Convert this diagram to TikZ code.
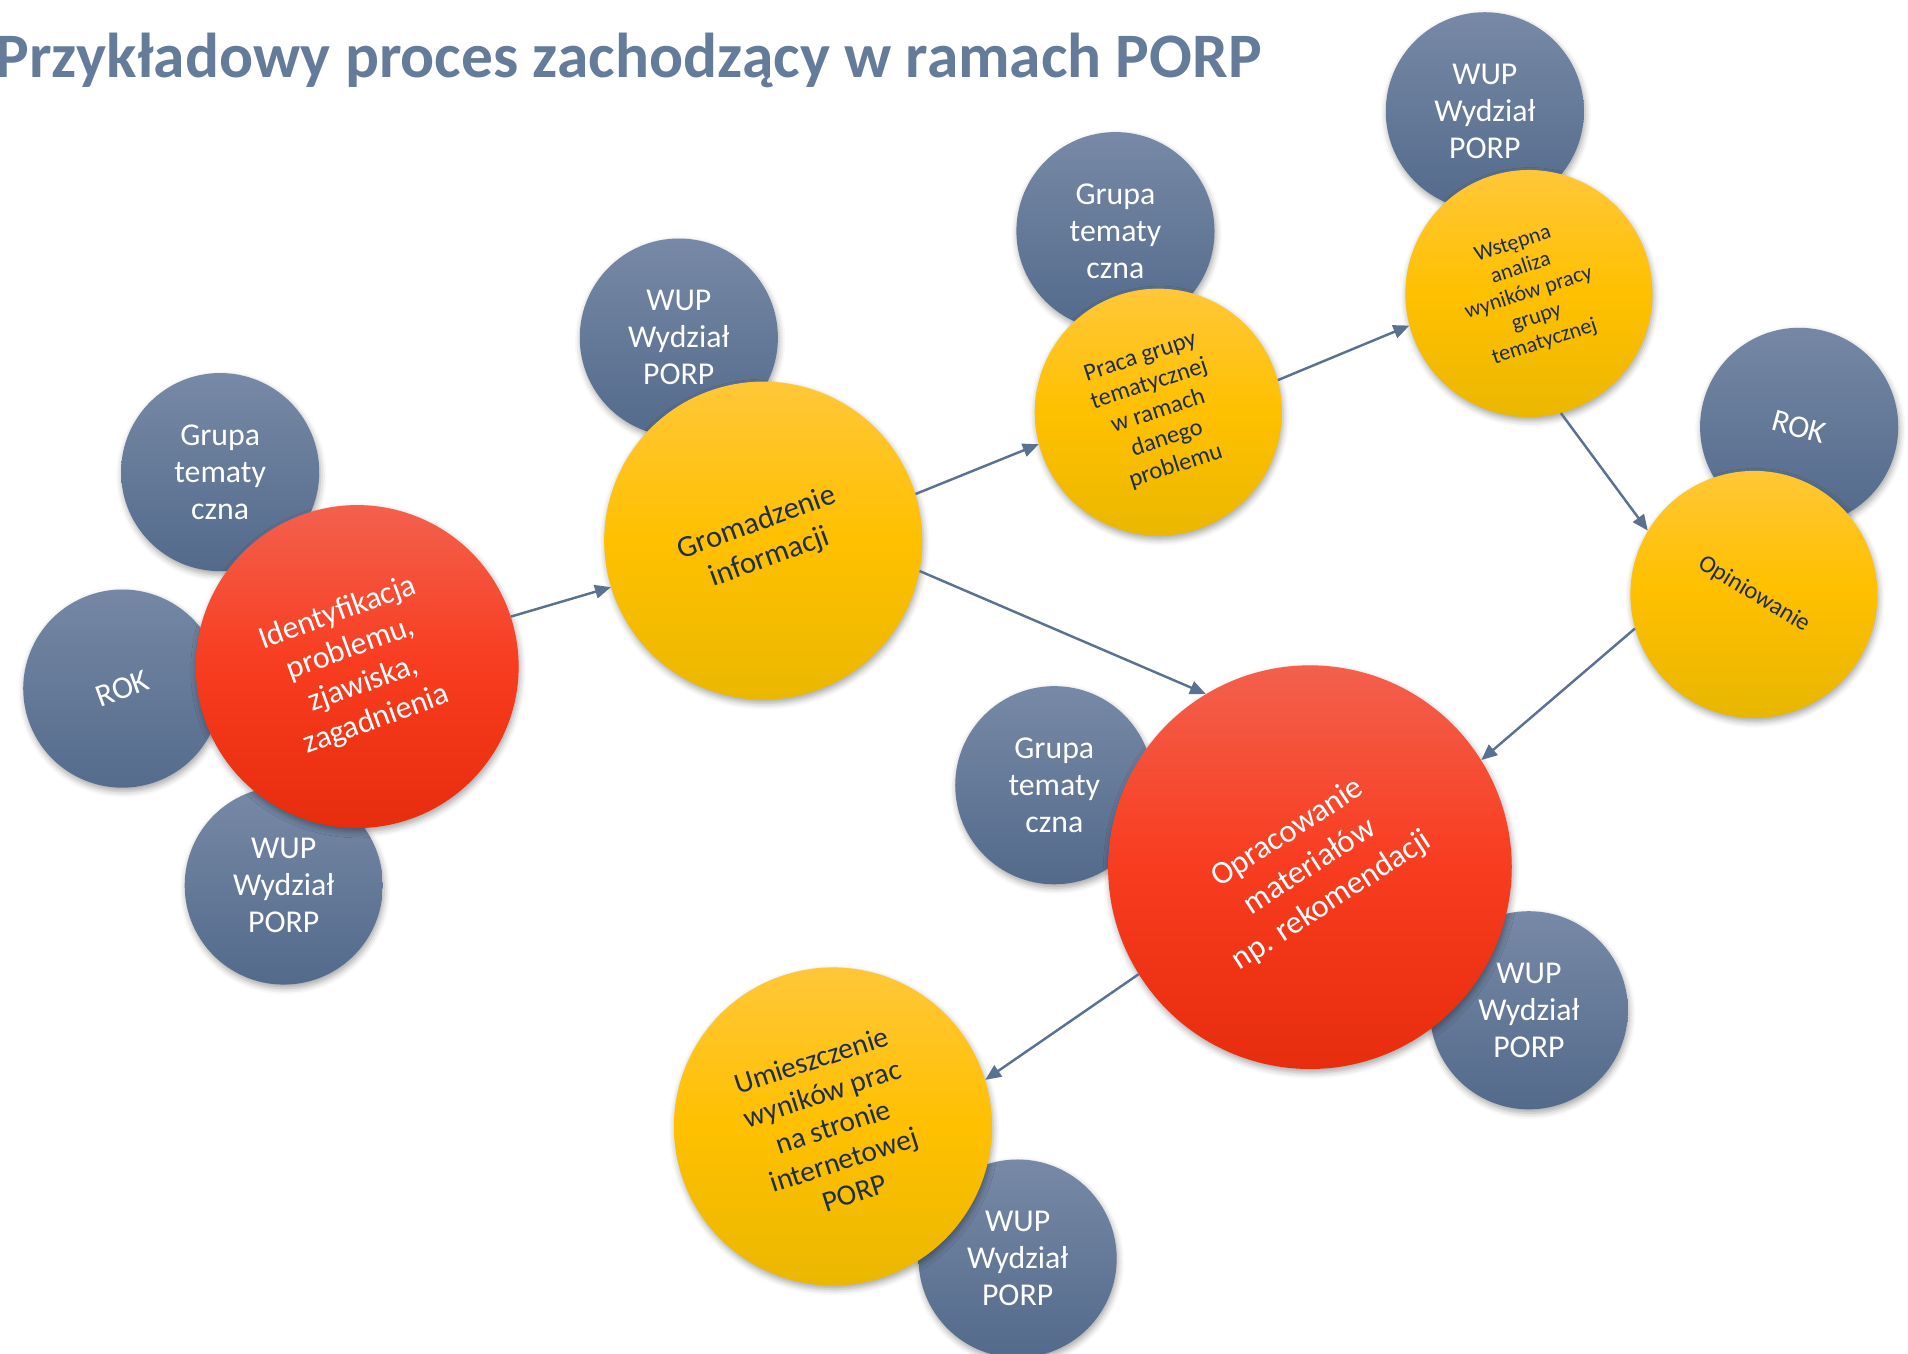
\documentclass[tikz,border=0pt]{standalone}
\usepackage{fontspec}
\setmainfont{Carlito}
\usetikzlibrary{arrows.meta,shadows.blur}
\definecolor{bluetop}{HTML}{7789A6}
\definecolor{bluebot}{HTML}{536A8B}
\definecolor{yeltop}{HTML}{FFC83F}
\definecolor{yelmid}{HTML}{FFC000}
\definecolor{yelbot}{HTML}{E8B700}
\definecolor{redtop}{HTML}{F26553}
\definecolor{redmid}{HTML}{F83C1F}
\definecolor{redbot}{HTML}{E42B0B}
\definecolor{navytext}{HTML}{1F2D4B}
\definecolor{titlecol}{HTML}{647B99}
\definecolor{arrowcol}{HTML}{5A7192}
\tikzset{
  bubble/.style={circle, inner sep=0pt, align=center,
    blur shadow={shadow xshift=1pt, shadow yshift=-3pt, shadow blur radius=5pt, shadow opacity=35}},
  bluebub/.style={bubble, minimum size=162pt, top color=bluetop, bottom color=bluebot,
    text=white, font=\fontsize{26}{30}\selectfont},
  yelbub/.style={bubble, top color=yeltop, bottom color=yelbot, middle color=yelmid, text=navytext},
  redbub/.style={bubble, top color=redtop, bottom color=redbot, middle color=redmid, text=white},
  conn/.style={draw=arrowcol, line width=2pt, -{Triangle[length=13pt,width=11pt]}}
}
\begin{document}
\begin{tikzpicture}[x=1pt,y=-1pt]
\useasboundingbox (0,0) rectangle (1560,1107);
\node[anchor=base west, text=titlecol, font=\fontsize{51.8}{62}\selectfont\bfseries] (title) at (-7,63) {Przykładowy proces zachodzący w ramach PORP};
% blue background bubbles
\node[bluebub] (g1) at (180,386) {Grupa\\tematy\\czna};
\node[bluebub, rotate=20] (k1) at (100,563) {ROK};
\node[bluebub] (w1) at (232,724) {WUP\\Wydział\\PORP};
\node[bluebub] (w2) at (555,276) {WUP\\Wydział\\PORP};
\node[bluebub] (g2) at (912,189) {Grupa\\tematy\\czna};
\node[bluebub] (w3) at (1214,91) {WUP\\Wydział\\PORP};
\node[bluebub, rotate=-15] (k2) at (1471,349) {ROK};
\node[bluebub] (g3) at (862,642) {Grupa\\tematy\\czna};
\node[bluebub] (w4) at (1250,826) {WUP\\Wydział\\PORP};
\node[bluebub] (w5) at (832,1029) {WUP\\Wydział\\PORP};
% main bubbles
\node[redbub, minimum size=264pt, rotate=20, font=\fontsize{26}{31}\selectfont] (ident) at (292,545) {Identyfikacja\\problemu,\\zjawiska,\\zagadnienia};
\node[yelbub, minimum size=260pt, rotate=20, font=\fontsize{25}{30}\selectfont] (grom) at (624,442) {Gromadzenie\\informacji};
\node[yelbub, minimum size=202pt, rotate=18, font=\fontsize{20}{23.5}\selectfont] (praca) at (947,337) {Praca grupy\\tematycznej\\w ramach\\danego\\problemu};
\node[yelbub, minimum size=202pt, rotate=18, font=\fontsize{18}{21}\selectfont] (wstep) at (1250,240) {Wstępna\\analiza\\wyników pracy\\grupy\\tematycznej};
\node[yelbub, minimum size=202pt, rotate=-31, font=\fontsize{20}{24}\selectfont] (opin) at (1434,486) {Opiniowanie};
\node[redbub, minimum size=330pt, rotate=33, font=\fontsize{26.5}{33}\selectfont] (oprac) at (1071,709) {Opracowanie\\materiałów\\np. rekomendacji};
\node[yelbub, minimum size=260pt, rotate=18, font=\fontsize{24}{28.5}\selectfont] (umiesz) at (681,921) {Umieszczenie\\wyników prac\\na stronie\\internetowej\\PORP};
% connectors
\draw[conn] (ident.-2) -- (grom.177);
\draw[conn] (grom.-3) -- (praca.177);
\draw[conn] (grom.-31) -- (oprac.88);
\draw[conn] (praca.-3) -- (wstep.177);
\draw[conn] (wstep.-93) -- (opin.180);
\draw[conn] (opin.227) -- (oprac.-1);
\draw[conn] (oprac.179) -- (umiesz.-1);
\end{tikzpicture}
\end{document}
